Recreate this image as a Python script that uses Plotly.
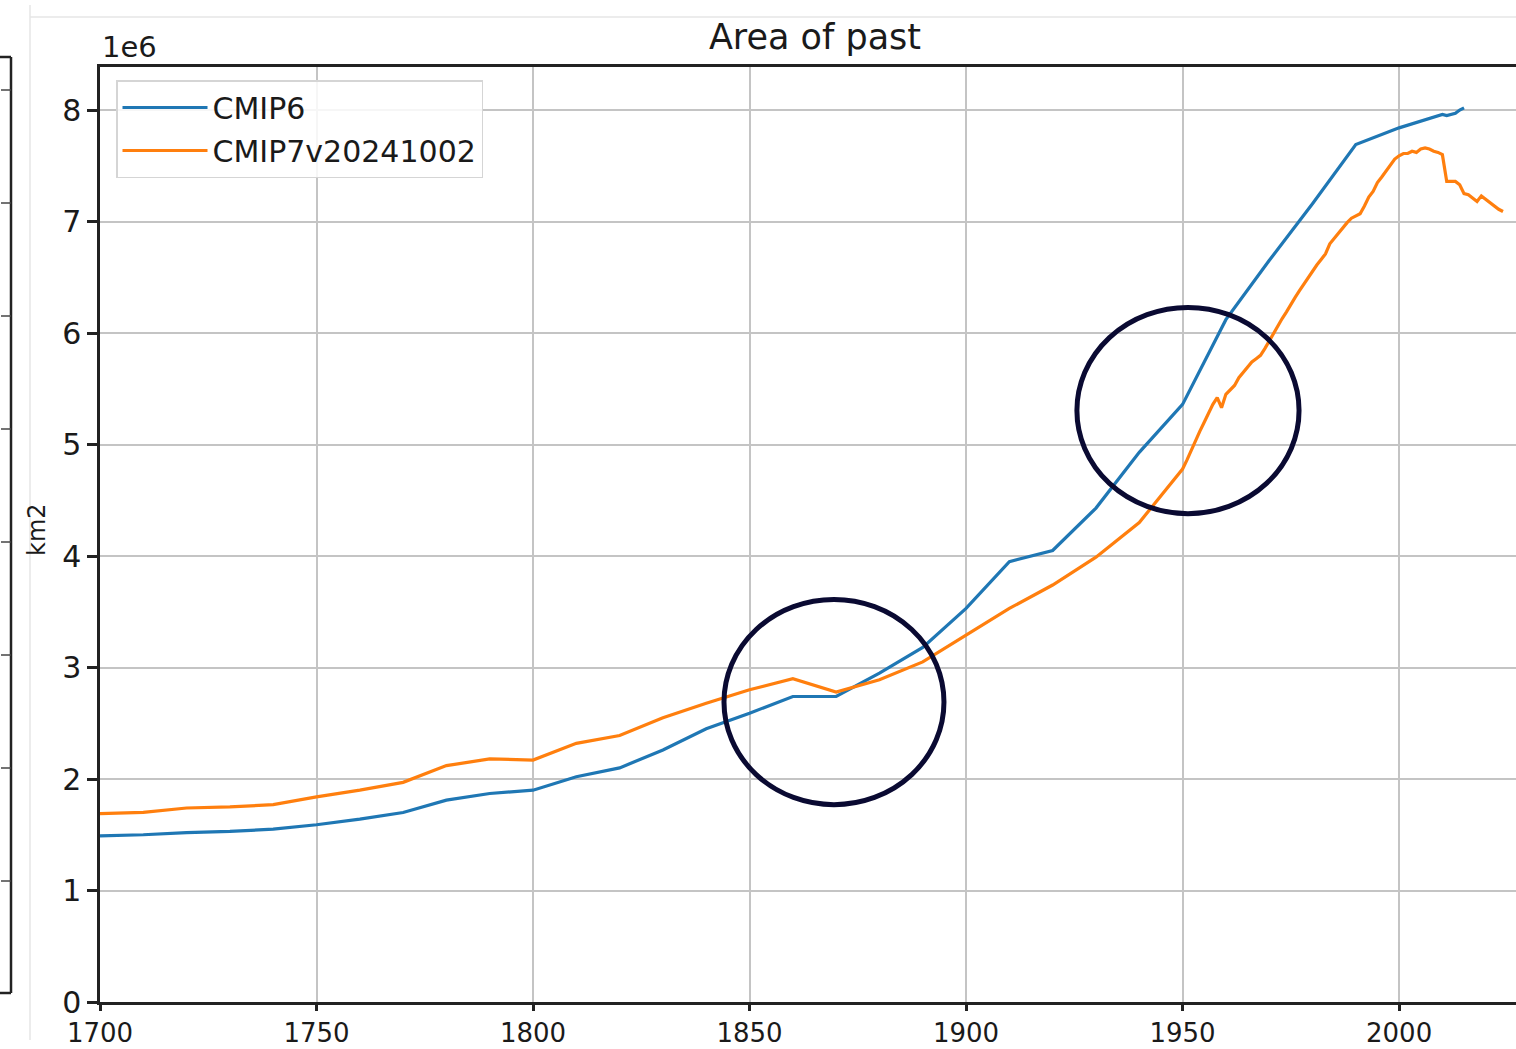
import plotly.graph_objects as go

# ---- data (values in 1e6 km2) ----
cmip6_years = [1700, 1710, 1720, 1730, 1740, 1750, 1760, 1770, 1780, 1790,
               1800, 1810, 1820, 1830, 1840, 1850, 1860, 1870, 1880, 1890,
               1900, 1910, 1920, 1930, 1940, 1950, 1960, 1970, 1980, 1990,
               2000, 2005, 2008, 2009, 2010, 2011, 2012, 2013, 2014, 2015]
cmip6_vals = [1.49, 1.50, 1.52, 1.53, 1.55, 1.59, 1.64, 1.70, 1.81, 1.87,
              1.90, 2.02, 2.10, 2.26, 2.45, 2.59, 2.74, 2.74, 2.95, 3.18,
              3.53, 3.95, 4.05, 4.43, 4.93, 5.36, 6.12, 6.65, 7.16, 7.69,
              7.84, 7.90, 7.94, 7.95, 7.96, 7.95, 7.96, 7.97, 8.00, 8.02]

cmip7_years = [1700, 1710, 1720, 1730, 1740, 1750, 1760, 1770, 1780, 1790,
               1800, 1810, 1820, 1830, 1840, 1850, 1860, 1870, 1880, 1890,
               1900, 1910, 1920, 1930, 1940,
               1950, 1951, 1952, 1953, 1954, 1955, 1956, 1957, 1958, 1959,
               1960, 1961, 1962, 1963, 1964, 1965, 1966, 1967, 1968, 1969,
               1970, 1971, 1972, 1973, 1974, 1975, 1976, 1977, 1978, 1979,
               1980, 1981, 1982, 1983, 1984, 1985, 1986, 1987, 1988, 1989,
               1990, 1991, 1992, 1993, 1994, 1995, 1996, 1997, 1998, 1999,
               2000, 2001, 2002, 2003, 2004, 2005, 2006, 2007, 2008, 2009,
               2010, 2011, 2012, 2013, 2014, 2015, 2016, 2017, 2018, 2019,
               2020, 2021, 2022, 2023, 2024]
cmip7_vals = [1.69, 1.70, 1.74, 1.75, 1.77, 1.84, 1.90, 1.97, 2.12, 2.18,
              2.17, 2.32, 2.39, 2.55, 2.68, 2.80, 2.90, 2.78, 2.89, 3.05,
              3.29, 3.53, 3.74, 3.99, 4.30,
              4.78, 4.86, 4.95, 5.04, 5.12, 5.20, 5.28, 5.36, 5.42, 5.33,
              5.45, 5.49, 5.53, 5.60, 5.65, 5.70, 5.74, 5.77, 5.80, 5.86,
              5.93, 6.00, 6.06, 6.13, 6.19, 6.26, 6.32, 6.38, 6.44, 6.50,
              6.55, 6.61, 6.66, 6.71, 6.80, 6.85, 6.89, 6.94, 6.99, 7.03,
              7.05, 7.07, 7.14, 7.22, 7.27, 7.35, 7.40, 7.45, 7.50, 7.56,
              7.59, 7.61, 7.61, 7.63, 7.62, 7.65, 7.66, 7.65, 7.63, 7.62,
              7.60, 7.36, 7.36, 7.36, 7.33, 7.25, 7.24, 7.21, 7.18, 7.23,
              7.20, 7.17, 7.14, 7.11, 7.09]

x_ticks = [1700, 1750, 1800, 1850, 1900, 1950, 2000]
y_ticks = [0, 1, 2, 3, 4, 5, 6, 7, 8]

FONT = "DejaVu Sans"
W, H = 1516, 1049
L, R, T, B = 100, 0, 67, 47
PW, PH = W - L - R, H - T - B


def px(xp):
    return (xp - L) / PW


def py(yp):
    return (H - B - yp) / PH


fig = go.Figure()
fig.add_trace(go.Scatter(x=cmip6_years, y=cmip6_vals, mode="lines", name="CMIP6",
                         legendgroup="a", line=dict(color="#1f77b4", width=3.2)))
fig.add_trace(go.Scatter(x=cmip7_years, y=cmip7_vals, mode="lines", name="CMIP7v20241002",
                         legendgroup="b", line=dict(color="#ff7f0e", width=3.2)))

shapes = []
# highlight circles
circ = dict(type="circle", xref="x", yref="y", line=dict(color="#0a0a32", width=5),
            fillcolor="rgba(0,0,0,0)", layer="above")
shapes.append(dict(circ, x0=1844.1, x1=1894.9, y0=1.77, y1=3.61))
shapes.append(dict(circ, x0=1925.6, x1=1976.9, y0=4.38, y1=6.23))

# partial neighbouring panel at the left edge
edge = dict(type="line", xref="paper", yref="paper", line=dict(color="#222222", width=2.5))
shapes.append(dict(edge, x0=px(11), x1=px(11), y0=py(57), y1=py(993)))
shapes.append(dict(edge, x0=px(0), x1=px(11), y0=py(57), y1=py(57)))
shapes.append(dict(edge, x0=px(0), x1=px(11), y0=py(993), y1=py(993)))
for yy in [90, 203, 316, 429, 542, 655, 768, 881]:
    shapes.append(dict(edge, x0=px(1), x1=px(11), y0=py(yy), y1=py(yy),
                       line=dict(color="#444444", width=1.5)))
# faint screenshot borders
faint = dict(type="line", xref="paper", yref="paper", line=dict(color="#e6e6e6", width=1.5))
shapes.append(dict(faint, x0=px(30), x1=px(30), y0=py(5), y1=py(1040)))
shapes.append(dict(faint, x0=px(30), x1=px(1516), y0=py(17), y1=py(17)))

annotations = [
    dict(text="1e6", xref="paper", yref="paper", x=0, y=py(47), xanchor="left",
         yanchor="middle", showarrow=False, font=dict(family=FONT, size=29, color="#1a1a1a")),
    dict(text="km2", xref="paper", yref="paper", x=px(37), y=py(530), xanchor="center",
         yanchor="middle", textangle=-90, showarrow=False,
         font=dict(family=FONT, size=24, color="#1a1a1a")),
]

fig.update_layout(
    width=W, height=H,
    margin=dict(l=L, r=R, t=T, b=B, autoexpand=False),
    paper_bgcolor="white", plot_bgcolor="white",
    font=dict(family=FONT, size=29, color="#1a1a1a"),
    title=dict(text="Area of past", x=(815 - L) / PW, xref="paper", xanchor="center",
               y=1 - 37 / H, yref="container", yanchor="middle",
               font=dict(family=FONT, size=35, color="#1a1a1a")),
    showlegend=True,
    legend=dict(x=px(116), y=py(80), xanchor="left", yanchor="top",
                bgcolor="rgba(255,255,255,0.85)", bordercolor="#d5d5d5", borderwidth=1.5,
                font=dict(family=FONT, size=30, color="#1a1a1a"),
                itemwidth=85, tracegroupgap=1, traceorder="grouped"),
    shapes=shapes,
    annotations=annotations,
    xaxis=dict(range=[1700, 2027], tickvals=x_ticks, ticktext=[str(v) for v in x_ticks],
               showgrid=True, gridcolor="#c4c4c4", gridwidth=2, automargin=False,
               showline=True, linecolor="#222222", linewidth=2.5, mirror=True,
               ticks="outside", ticklen=6, tickwidth=2.5, tickcolor="#222222",
               tickfont=dict(family=FONT, size=26, color="#1a1a1a"), zeroline=False),
    yaxis=dict(range=[0, 8.386], tickvals=y_ticks, ticktext=[str(v) for v in y_ticks],
               showgrid=True, gridcolor="#c4c4c4", gridwidth=2, automargin=False,
               showline=True, linecolor="#222222", linewidth=2.5, mirror=False,
               ticks="outside", ticklen=10, tickwidth=2.5, tickcolor="#222222",
               tickfont=dict(family=FONT, size=30, color="#1a1a1a"), zeroline=False),
)

fig.write_html("out.html", config={"displayModeBar": False},
               post_script="document.body.style.margin='0';document.body.style.overflow='hidden';")
